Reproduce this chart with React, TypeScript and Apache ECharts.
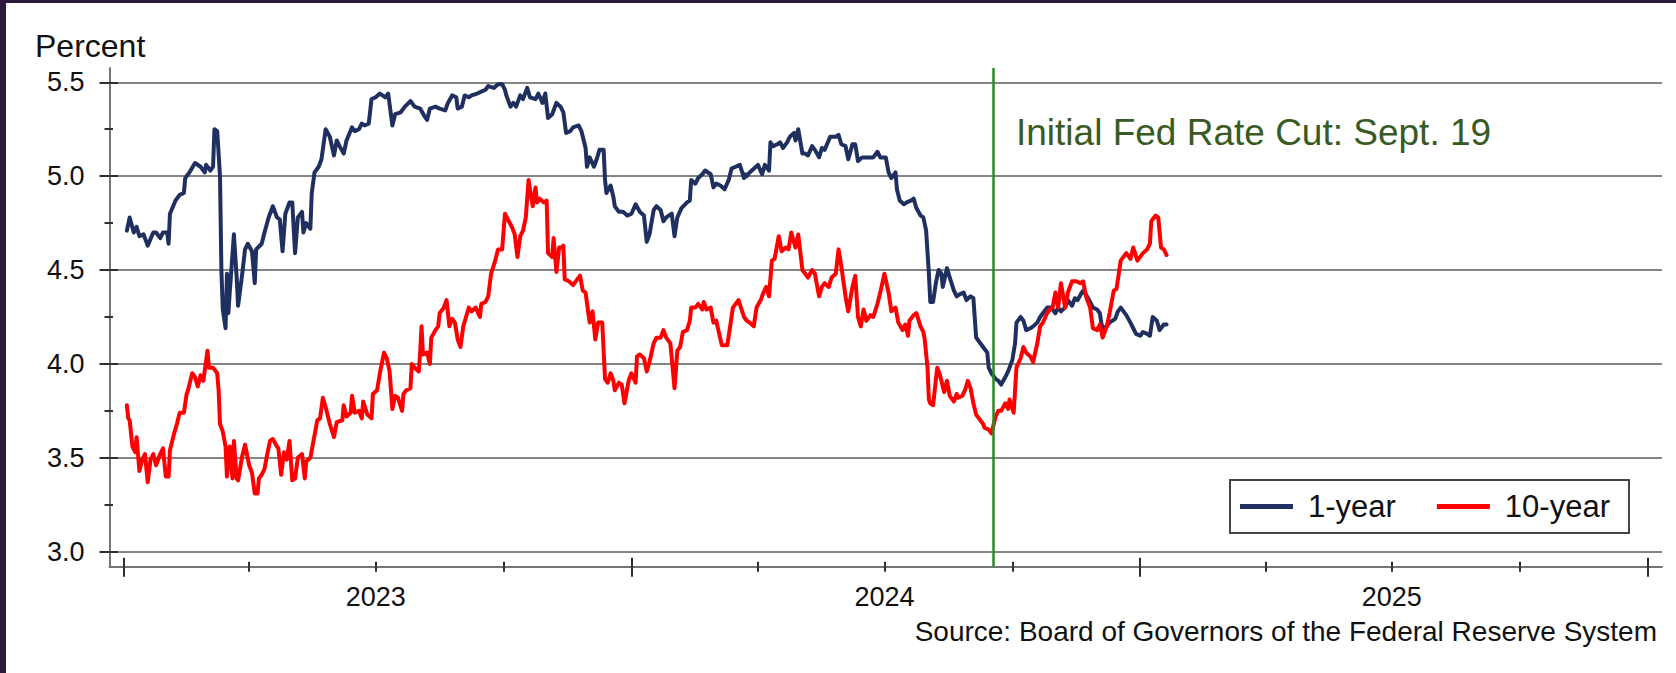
import React, { useEffect, useRef } from "react";
import * as echarts from "echarts";

const FONT = "'Liberation Sans', Arial, Helvetica, sans-serif";

const seriesNames = ["1-year", "10-year"];
const seriesColors = ["#1f3060", "#ff0000"];

// 1-year Treasury yield, percent
const oneYear: [string, number][] = [
  ["2023-01-03", 4.71], ["2023-01-05", 4.78], ["2023-01-08", 4.70], ["2023-01-10", 4.73], ["2023-01-12", 4.68],
  ["2023-01-15", 4.69], ["2023-01-18", 4.63], ["2023-01-22", 4.70], ["2023-01-24", 4.70], ["2023-01-27", 4.67],
  ["2023-01-29", 4.70], ["2023-02-01", 4.70], ["2023-02-02", 4.64], ["2023-02-03", 4.80], ["2023-02-07", 4.87],
  ["2023-02-10", 4.90], ["2023-02-13", 4.91], ["2023-02-14", 4.99], ["2023-02-17", 5.02], ["2023-02-21", 5.07],
  ["2023-02-25", 5.05], ["2023-02-28", 5.02], ["2023-03-01", 5.06], ["2023-03-04", 5.03], ["2023-03-06", 5.05],
  ["2023-03-07", 5.25], ["2023-03-09", 5.24], ["2023-03-11", 5.00], ["2023-03-12", 4.50], ["2023-03-13", 4.29],
  ["2023-03-15", 4.19], ["2023-03-16", 4.48], ["2023-03-17", 4.27], ["2023-03-18", 4.38], ["2023-03-21", 4.69],
  ["2023-03-23", 4.46], ["2023-03-24", 4.31], ["2023-03-27", 4.48], ["2023-03-29", 4.61], ["2023-03-31", 4.64],
  ["2023-04-03", 4.60], ["2023-04-05", 4.43], ["2023-04-06", 4.61], ["2023-04-10", 4.64], ["2023-04-12", 4.70],
  ["2023-04-15", 4.78], ["2023-04-18", 4.84], ["2023-04-21", 4.78], ["2023-04-23", 4.77], ["2023-04-25", 4.60],
  ["2023-04-27", 4.80], ["2023-04-30", 4.86], ["2023-05-02", 4.86], ["2023-05-04", 4.59], ["2023-05-06", 4.78],
  ["2023-05-09", 4.81], ["2023-05-10", 4.70], ["2023-05-12", 4.75], ["2023-05-15", 4.72], ["2023-05-16", 4.91],
  ["2023-05-18", 5.02], ["2023-05-21", 5.05], ["2023-05-23", 5.09], ["2023-05-26", 5.25], ["2023-05-29", 5.21],
  ["2023-06-01", 5.11], ["2023-06-03", 5.19], ["2023-06-05", 5.16], ["2023-06-08", 5.12], ["2023-06-10", 5.19],
  ["2023-06-14", 5.26], ["2023-06-16", 5.24], ["2023-06-19", 5.25], ["2023-06-21", 5.28], ["2023-06-23", 5.27],
  ["2023-06-26", 5.28], ["2023-06-28", 5.41], ["2023-07-01", 5.42], ["2023-07-04", 5.44], ["2023-07-08", 5.42],
  ["2023-07-10", 5.44], ["2023-07-13", 5.27], ["2023-07-15", 5.33], ["2023-07-19", 5.34], ["2023-07-22", 5.37],
  ["2023-07-26", 5.40], ["2023-07-29", 5.37], ["2023-08-02", 5.36], ["2023-08-05", 5.32], ["2023-08-07", 5.30],
  ["2023-08-09", 5.36], ["2023-08-13", 5.37], ["2023-08-16", 5.36], ["2023-08-20", 5.35], ["2023-08-22", 5.39],
  ["2023-08-25", 5.43], ["2023-08-28", 5.42], ["2023-08-29", 5.36], ["2023-09-01", 5.37], ["2023-09-03", 5.43],
  ["2023-09-06", 5.42], ["2023-09-08", 5.43], ["2023-09-12", 5.44], ["2023-09-15", 5.45], ["2023-09-18", 5.46],
  ["2023-09-20", 5.48], ["2023-09-24", 5.47], ["2023-09-27", 5.49], ["2023-09-30", 5.49], ["2023-10-02", 5.46],
  ["2023-10-03", 5.43], ["2023-10-06", 5.37], ["2023-10-08", 5.39], ["2023-10-10", 5.37], ["2023-10-13", 5.43],
  ["2023-10-15", 5.41], ["2023-10-18", 5.47], ["2023-10-20", 5.42], ["2023-10-24", 5.41], ["2023-10-26", 5.44],
  ["2023-10-29", 5.39], ["2023-10-31", 5.44], ["2023-11-02", 5.31], ["2023-11-05", 5.33], ["2023-11-08", 5.39],
  ["2023-11-11", 5.37], ["2023-11-13", 5.34], ["2023-11-15", 5.23], ["2023-11-18", 5.24], ["2023-11-20", 5.26],
  ["2023-11-24", 5.27], ["2023-11-26", 5.24], ["2023-11-29", 5.15], ["2023-11-30", 5.05], ["2023-12-02", 5.10],
  ["2023-12-05", 5.05], ["2023-12-07", 5.09], ["2023-12-09", 5.14], ["2023-12-12", 5.14], ["2023-12-13", 4.98],
  ["2023-12-14", 4.91], ["2023-12-17", 4.95], ["2023-12-19", 4.89], ["2023-12-20", 4.84], ["2023-12-23", 4.81],
  ["2023-12-26", 4.81], ["2023-12-29", 4.79], ["2024-01-01", 4.80], ["2024-01-04", 4.85], ["2024-01-07", 4.81],
  ["2024-01-10", 4.79], ["2024-01-12", 4.65], ["2024-01-14", 4.69], ["2024-01-17", 4.82], ["2024-01-19", 4.84],
  ["2024-01-22", 4.82], ["2024-01-24", 4.76], ["2024-01-26", 4.78], ["2024-01-30", 4.80], ["2024-02-01", 4.68],
  ["2024-02-03", 4.78], ["2024-02-06", 4.83], ["2024-02-10", 4.86], ["2024-02-12", 4.87], ["2024-02-13", 4.98],
  ["2024-02-16", 4.96], ["2024-02-18", 4.99], ["2024-02-21", 5.01], ["2024-02-23", 5.03], ["2024-02-27", 5.01],
  ["2024-02-29", 4.94], ["2024-03-02", 4.96], ["2024-03-05", 4.95], ["2024-03-08", 4.93], ["2024-03-11", 4.98],
  ["2024-03-13", 5.04], ["2024-03-16", 5.05], ["2024-03-19", 5.06], ["2024-03-22", 4.99], ["2024-03-23", 5.01],
  ["2024-03-24", 5.00], ["2024-03-26", 5.02], ["2024-03-29", 5.04], ["2024-04-01", 5.06], ["2024-04-04", 5.01],
  ["2024-04-06", 5.06], ["2024-04-09", 5.03], ["2024-04-10", 5.18], ["2024-04-12", 5.16], ["2024-04-15", 5.17],
  ["2024-04-17", 5.18], ["2024-04-19", 5.15], ["2024-04-22", 5.18], ["2024-04-24", 5.21], ["2024-04-27", 5.23],
  ["2024-04-28", 5.19], ["2024-04-30", 5.25], ["2024-05-03", 5.12], ["2024-05-05", 5.12], ["2024-05-07", 5.11],
  ["2024-05-10", 5.16], ["2024-05-12", 5.14], ["2024-05-15", 5.10], ["2024-05-17", 5.15], ["2024-05-19", 5.14],
  ["2024-05-23", 5.21], ["2024-05-27", 5.21], ["2024-05-29", 5.22], ["2024-05-31", 5.17], ["2024-06-03", 5.16],
  ["2024-06-05", 5.09], ["2024-06-08", 5.17], ["2024-06-10", 5.17], ["2024-06-12", 5.08], ["2024-06-15", 5.10],
  ["2024-06-17", 5.10], ["2024-06-20", 5.10], ["2024-06-23", 5.10], ["2024-06-26", 5.13], ["2024-06-28", 5.10],
  ["2024-07-02", 5.10], ["2024-07-04", 5.02], ["2024-07-06", 4.99], ["2024-07-09", 5.02], ["2024-07-10", 4.93],
  ["2024-07-12", 4.87], ["2024-07-15", 4.85], ["2024-07-17", 4.86], ["2024-07-20", 4.87], ["2024-07-22", 4.88],
  ["2024-07-24", 4.83], ["2024-07-27", 4.79], ["2024-07-29", 4.78], ["2024-07-31", 4.71], ["2024-08-02", 4.48],
  ["2024-08-03", 4.33], ["2024-08-05", 4.33], ["2024-08-07", 4.43], ["2024-08-09", 4.50], ["2024-08-11", 4.48],
  ["2024-08-12", 4.41], ["2024-08-15", 4.51], ["2024-08-17", 4.46], ["2024-08-20", 4.39], ["2024-08-22", 4.36],
  ["2024-08-24", 4.37], ["2024-08-27", 4.38], ["2024-08-29", 4.34], ["2024-09-01", 4.36], ["2024-09-03", 4.35],
  ["2024-09-05", 4.14], ["2024-09-08", 4.11], ["2024-09-10", 4.09], ["2024-09-13", 4.06], ["2024-09-14", 3.98],
  ["2024-09-16", 3.95], ["2024-09-19", 3.92], ["2024-09-21", 3.91], ["2024-09-23", 3.89], ["2024-09-26", 3.93],
  ["2024-09-28", 3.96], ["2024-10-01", 4.02], ["2024-10-03", 4.11], ["2024-10-04", 4.22], ["2024-10-07", 4.25],
  ["2024-10-09", 4.23], ["2024-10-11", 4.18], ["2024-10-14", 4.19], ["2024-10-16", 4.20], ["2024-10-19", 4.22],
  ["2024-10-21", 4.25], ["2024-10-23", 4.27], ["2024-10-26", 4.30], ["2024-10-29", 4.30], ["2024-11-01", 4.27],
  ["2024-11-03", 4.30], ["2024-11-05", 4.28], ["2024-11-08", 4.30], ["2024-11-10", 4.34], ["2024-11-13", 4.31],
  ["2024-11-15", 4.35], ["2024-11-17", 4.34], ["2024-11-20", 4.38], ["2024-11-21", 4.39], ["2024-11-23", 4.37],
  ["2024-11-26", 4.33], ["2024-11-28", 4.30], ["2024-12-01", 4.29], ["2024-12-03", 4.27], ["2024-12-04", 4.22],
  ["2024-12-05", 4.19], ["2024-12-08", 4.20], ["2024-12-10", 4.22], ["2024-12-14", 4.24], ["2024-12-16", 4.28],
  ["2024-12-18", 4.30], ["2024-12-20", 4.28], ["2024-12-22", 4.26], ["2024-12-25", 4.22], ["2024-12-27", 4.19],
  ["2024-12-29", 4.16], ["2025-01-01", 4.15], ["2025-01-03", 4.17], ["2025-01-06", 4.16], ["2025-01-08", 4.15],
  ["2025-01-10", 4.25], ["2025-01-13", 4.23], ["2025-01-15", 4.18], ["2025-01-18", 4.21], ["2025-01-20", 4.21],
];

// 10-year Treasury yield, percent
const tenYear: [string, number][] = [
  ["2023-01-03", 3.78], ["2023-01-04", 3.71], ["2023-01-05", 3.70], ["2023-01-07", 3.56], ["2023-01-09", 3.53],
  ["2023-01-10", 3.61], ["2023-01-12", 3.43], ["2023-01-14", 3.49], ["2023-01-16", 3.52], ["2023-01-18", 3.37],
  ["2023-01-20", 3.49], ["2023-01-22", 3.52], ["2023-01-24", 3.46], ["2023-01-27", 3.52], ["2023-01-29", 3.55],
  ["2023-01-31", 3.40], ["2023-02-02", 3.40], ["2023-02-03", 3.54], ["2023-02-06", 3.63], ["2023-02-08", 3.68],
  ["2023-02-10", 3.74], ["2023-02-13", 3.74], ["2023-02-15", 3.84], ["2023-02-16", 3.86], ["2023-02-19", 3.95],
  ["2023-02-21", 3.93], ["2023-02-23", 3.88], ["2023-02-25", 3.94], ["2023-02-27", 3.91], ["2023-03-02", 4.07],
  ["2023-03-03", 3.98], ["2023-03-06", 3.98], ["2023-03-09", 3.95], ["2023-03-10", 3.86], ["2023-03-11", 3.68],
  ["2023-03-13", 3.64], ["2023-03-15", 3.56], ["2023-03-16", 3.40], ["2023-03-18", 3.56], ["2023-03-20", 3.39],
  ["2023-03-21", 3.59], ["2023-03-23", 3.39], ["2023-03-24", 3.38], ["2023-03-27", 3.51], ["2023-03-29", 3.57],
  ["2023-04-01", 3.46], ["2023-04-03", 3.42], ["2023-04-05", 3.31], ["2023-04-07", 3.31], ["2023-04-08", 3.39],
  ["2023-04-10", 3.41], ["2023-04-12", 3.44], ["2023-04-14", 3.52], ["2023-04-16", 3.59], ["2023-04-18", 3.60],
  ["2023-04-21", 3.56], ["2023-04-22", 3.55], ["2023-04-24", 3.41], ["2023-04-26", 3.53], ["2023-04-28", 3.49],
  ["2023-04-30", 3.59], ["2023-05-02", 3.38], ["2023-05-04", 3.39], ["2023-05-06", 3.50], ["2023-05-09", 3.52],
  ["2023-05-11", 3.39], ["2023-05-12", 3.48], ["2023-05-15", 3.50], ["2023-05-17", 3.58], ["2023-05-20", 3.70],
  ["2023-05-22", 3.71], ["2023-05-24", 3.82], ["2023-05-26", 3.77], ["2023-05-29", 3.68], ["2023-06-01", 3.61],
  ["2023-06-03", 3.69], ["2023-06-07", 3.70], ["2023-06-08", 3.78], ["2023-06-10", 3.72], ["2023-06-13", 3.74],
  ["2023-06-14", 3.83], ["2023-06-16", 3.74], ["2023-06-19", 3.75], ["2023-06-21", 3.71], ["2023-06-22", 3.80],
  ["2023-06-25", 3.73], ["2023-06-28", 3.71], ["2023-06-29", 3.84], ["2023-07-02", 3.86], ["2023-07-04", 3.95],
  ["2023-07-07", 4.06], ["2023-07-09", 4.03], ["2023-07-11", 3.96], ["2023-07-13", 3.76], ["2023-07-15", 3.83],
  ["2023-07-17", 3.82], ["2023-07-20", 3.75], ["2023-07-21", 3.84], ["2023-07-23", 3.86], ["2023-07-26", 3.87],
  ["2023-07-27", 4.00], ["2023-07-29", 3.98], ["2023-08-01", 3.96], ["2023-08-02", 4.06], ["2023-08-03", 4.20],
  ["2023-08-04", 4.05], ["2023-08-07", 4.06], ["2023-08-09", 4.00], ["2023-08-10", 4.14], ["2023-08-13", 4.18],
  ["2023-08-15", 4.20], ["2023-08-16", 4.27], ["2023-08-19", 4.30], ["2023-08-21", 4.34], ["2023-08-23", 4.20],
  ["2023-08-25", 4.24], ["2023-08-27", 4.22], ["2023-08-29", 4.13], ["2023-08-31", 4.09], ["2023-09-02", 4.20],
  ["2023-09-04", 4.25], ["2023-09-06", 4.30], ["2023-09-08", 4.28], ["2023-09-11", 4.30], ["2023-09-14", 4.25],
  ["2023-09-15", 4.32], ["2023-09-18", 4.33], ["2023-09-20", 4.36], ["2023-09-22", 4.48], ["2023-09-25", 4.55],
  ["2023-09-27", 4.61], ["2023-09-30", 4.61], ["2023-10-02", 4.80], ["2023-10-04", 4.77], ["2023-10-07", 4.73],
  ["2023-10-09", 4.69], ["2023-10-11", 4.57], ["2023-10-13", 4.68], ["2023-10-15", 4.71], ["2023-10-17", 4.78],
  ["2023-10-19", 4.98], ["2023-10-20", 4.93], ["2023-10-22", 4.84], ["2023-10-24", 4.94], ["2023-10-25", 4.86],
  ["2023-10-27", 4.88], ["2023-10-30", 4.86], ["2023-11-01", 4.87], ["2023-11-02", 4.59], ["2023-11-05", 4.57],
  ["2023-11-06", 4.67], ["2023-11-08", 4.49], ["2023-11-10", 4.62], ["2023-11-12", 4.62], ["2023-11-13", 4.63],
  ["2023-11-14", 4.45], ["2023-11-17", 4.44], ["2023-11-20", 4.42], ["2023-11-23", 4.45], ["2023-11-25", 4.47],
  ["2023-11-27", 4.39], ["2023-11-29", 4.38], ["2023-12-01", 4.27], ["2023-12-02", 4.22], ["2023-12-04", 4.28],
  ["2023-12-06", 4.13], ["2023-12-08", 4.22], ["2023-12-11", 4.22], ["2023-12-13", 3.92], ["2023-12-15", 3.90],
  ["2023-12-17", 3.95], ["2023-12-19", 3.91], ["2023-12-20", 3.86], ["2023-12-23", 3.90], ["2023-12-25", 3.89],
  ["2023-12-27", 3.79], ["2023-12-30", 3.91], ["2024-01-01", 3.95], ["2024-01-04", 3.90], ["2024-01-05", 4.04],
  ["2024-01-07", 4.05], ["2024-01-10", 4.03], ["2024-01-12", 3.96], ["2024-01-14", 4.01], ["2024-01-17", 4.11],
  ["2024-01-19", 4.14], ["2024-01-22", 4.14], ["2024-01-24", 4.18], ["2024-01-26", 4.14], ["2024-01-29", 4.11],
  ["2024-02-01", 3.87], ["2024-02-03", 4.07], ["2024-02-05", 4.09], ["2024-02-07", 4.17], ["2024-02-10", 4.18],
  ["2024-02-12", 4.23], ["2024-02-13", 4.30], ["2024-02-16", 4.30], ["2024-02-18", 4.32], ["2024-02-21", 4.29],
  ["2024-02-22", 4.33], ["2024-02-24", 4.29], ["2024-02-27", 4.30], ["2024-02-29", 4.22], ["2024-03-02", 4.23],
  ["2024-03-06", 4.10], ["2024-03-10", 4.10], ["2024-03-12", 4.20], ["2024-03-14", 4.30], ["2024-03-18", 4.34],
  ["2024-03-22", 4.25], ["2024-03-24", 4.23], ["2024-03-26", 4.22], ["2024-03-29", 4.20], ["2024-03-31", 4.30],
  ["2024-04-03", 4.34], ["2024-04-05", 4.38], ["2024-04-07", 4.41], ["2024-04-09", 4.36], ["2024-04-11", 4.55],
  ["2024-04-13", 4.56], ["2024-04-16", 4.68], ["2024-04-18", 4.60], ["2024-04-21", 4.62], ["2024-04-23", 4.61],
  ["2024-04-25", 4.70], ["2024-04-28", 4.62], ["2024-04-30", 4.69], ["2024-05-03", 4.50], ["2024-05-05", 4.48],
  ["2024-05-07", 4.46], ["2024-05-10", 4.50], ["2024-05-12", 4.48], ["2024-05-15", 4.36], ["2024-05-17", 4.41],
  ["2024-05-19", 4.43], ["2024-05-22", 4.41], ["2024-05-24", 4.46], ["2024-05-27", 4.48], ["2024-05-29", 4.61],
  ["2024-05-31", 4.52], ["2024-06-03", 4.36], ["2024-06-05", 4.28], ["2024-06-08", 4.41], ["2024-06-10", 4.47],
  ["2024-06-12", 4.25], ["2024-06-14", 4.20], ["2024-06-16", 4.29], ["2024-06-18", 4.23], ["2024-06-21", 4.26],
  ["2024-06-23", 4.25], ["2024-06-26", 4.32], ["2024-06-28", 4.38], ["2024-07-01", 4.48], ["2024-07-04", 4.38],
  ["2024-07-06", 4.28], ["2024-07-09", 4.30], ["2024-07-11", 4.22], ["2024-07-14", 4.18], ["2024-07-16", 4.21],
  ["2024-07-18", 4.15], ["2024-07-19", 4.23], ["2024-07-22", 4.26], ["2024-07-24", 4.27], ["2024-07-27", 4.20],
  ["2024-07-29", 4.17], ["2024-07-30", 4.13], ["2024-08-01", 3.98], ["2024-08-02", 3.81], ["2024-08-03", 3.79],
  ["2024-08-05", 3.78], ["2024-08-08", 3.98], ["2024-08-10", 3.94], ["2024-08-13", 3.85], ["2024-08-15", 3.91],
  ["2024-08-17", 3.83], ["2024-08-20", 3.80], ["2024-08-22", 3.84], ["2024-08-23", 3.82], ["2024-08-26", 3.83],
  ["2024-08-28", 3.86], ["2024-08-30", 3.91], ["2024-09-01", 3.87], ["2024-09-03", 3.79], ["2024-09-05", 3.73],
  ["2024-09-08", 3.70], ["2024-09-10", 3.68], ["2024-09-11", 3.66], ["2024-09-14", 3.65], ["2024-09-16", 3.63],
  ["2024-09-19", 3.72], ["2024-09-21", 3.75], ["2024-09-23", 3.75], ["2024-09-26", 3.79], ["2024-09-28", 3.76],
  ["2024-09-29", 3.81], ["2024-10-02", 3.74], ["2024-10-04", 3.98], ["2024-10-07", 4.03], ["2024-10-09", 4.09],
  ["2024-10-11", 4.06], ["2024-10-14", 4.04], ["2024-10-16", 4.01], ["2024-10-19", 4.11], ["2024-10-21", 4.20],
  ["2024-10-23", 4.22], ["2024-10-26", 4.27], ["2024-10-28", 4.29], ["2024-10-30", 4.30], ["2024-11-01", 4.38],
  ["2024-11-03", 4.30], ["2024-11-05", 4.43], ["2024-11-08", 4.30], ["2024-11-10", 4.38], ["2024-11-13", 4.44],
  ["2024-11-16", 4.44], ["2024-11-19", 4.43], ["2024-11-21", 4.44], ["2024-11-23", 4.36], ["2024-11-26", 4.30],
  ["2024-11-28", 4.19], ["2024-12-01", 4.18], ["2024-12-03", 4.21], ["2024-12-05", 4.14], ["2024-12-08", 4.20],
  ["2024-12-10", 4.27], ["2024-12-13", 4.39], ["2024-12-15", 4.40], ["2024-12-18", 4.55], ["2024-12-20", 4.57],
  ["2024-12-22", 4.59], ["2024-12-25", 4.56], ["2024-12-27", 4.62], ["2024-12-30", 4.55], ["2025-01-01", 4.57],
  ["2025-01-03", 4.59], ["2025-01-06", 4.61], ["2025-01-08", 4.64], ["2025-01-09", 4.76], ["2025-01-12", 4.79],
  ["2025-01-14", 4.78], ["2025-01-16", 4.62], ["2025-01-18", 4.61], ["2025-01-20", 4.58],
];

const fedCutDate = "2024-09-17";
const fedCutLabel = "Initial Fed Rate Cut: Sept. 19";
const yAxisTitle = "Percent";
const sourceNote = "Source: Board of Governors of the Federal Reserve System";

const yRange = [2.92, 5.576];
const yMajorTicks = [3, 3.5, 4, 4.5, 5, 5.5];
const yMinorTicks = [3.25, 3.75, 4.25, 4.75, 5.25];

const xRange = ["2022-12-21T12:00:00Z", "2026-01-11T10:00:00Z"];
const quarterTicks = [
  "2023-04-01", "2023-07-01", "2023-10-01",
  "2024-04-01", "2024-07-01", "2024-10-01",
  "2025-04-01", "2025-07-01", "2025-10-01",
];
const yearTicks = ["2023-01-01", "2024-01-01", "2025-01-01", "2026-01-01"];
const yearLabelDates = ["2023-07-01", "2024-07-01", "2025-07-01"];

const ts = (s: string) => Date.parse(s.length === 10 ? s + "T00:00:00Z" : s);

const TICK_COLOR = "#2e2e2e";
const AXIS_COLOR = "#767676";
const GRID_COLOR = "#858585";

function xDecor(values: string[], inside: boolean, length: number, mainAxis: boolean) {
  return {
    type: "value",
    position: "bottom",
    min: ts(xRange[0]),
    max: ts(xRange[1]),
    axisLine: mainAxis ? { show: true, lineStyle: { color: AXIS_COLOR, width: 2 } } : { show: false },
    axisTick: {
      show: true,
      inside,
      length,
      customValues: values.map(ts),
      lineStyle: { color: TICK_COLOR, width: 2 },
    },
    axisLabel: mainAxis
      ? {
          show: true,
          customValues: yearLabelDates.map(ts),
          formatter: (v: number) => String(new Date(v).getUTCFullYear()),
          margin: 17,
          fontSize: 27,
          fontFamily: FONT,
          color: "#111111",
        }
      : { show: false },
    splitLine: { show: false },
  };
}

function yDecor(values: number[], inside: boolean, length: number, mainAxis: boolean) {
  return {
    type: "value",
    position: "left",
    min: yRange[0],
    max: yRange[1],
    axisLine: mainAxis ? { show: true, lineStyle: { color: AXIS_COLOR, width: 2 } } : { show: false },
    axisTick: {
      show: true,
      inside,
      length,
      customValues: values,
      lineStyle: { color: TICK_COLOR, width: 2 },
    },
    axisLabel: mainAxis
      ? {
          show: true,
          customValues: yMajorTicks,
          formatter: (v: number) => v.toFixed(1),
          margin: 25,
          fontSize: 27,
          fontFamily: FONT,
          color: "#111111",
        }
      : { show: false },
    splitLine: mainAxis ? { show: true, lineStyle: { color: GRID_COLOR, width: 2 } } : { show: false },
  };
}

export default function App() {
  const ref = useRef<HTMLDivElement>(null);

  useEffect(() => {
    if (!ref.current) return;
    const chart = echarts.init(ref.current, null, { renderer: "svg" });
    const seriesData = [oneYear, tenYear];

    const option: any = {
      animation: false,
      backgroundColor: "#ffffff",
      grid: {
        left: 109.5,
        right: 14,
        top: 68,
        bottom: 106.3,
        containLabel: false,
        outerBoundsMode: "none",
      },
      xAxis: [
        xDecor(quarterTicks.concat(yearTicks), false, 5, true),
        xDecor(quarterTicks, true, 5, false),
        xDecor(yearTicks, false, 10, false),
        xDecor(yearTicks, true, 9, false),
      ],
      yAxis: [
        yDecor(yMajorTicks, false, 10, true),
        yDecor(yMajorTicks, true, 8.5, false),
        yDecor(yMinorTicks, false, 5, false),
        yDecor(yMinorTicks, true, 3.5, false),
      ],
      legend: {
        show: true,
        data: seriesNames,
        left: 1230,
        top: 480,
        orient: "horizontal",
        icon: "rect",
        itemWidth: 53,
        itemHeight: 5,
        itemGap: 41,
        padding: [11, 19, 11, 10],
        borderColor: "#444444",
        borderWidth: 2,
        backgroundColor: "#ffffff",
        selectedMode: false,
        textStyle: {
          fontSize: 31,
          fontFamily: FONT,
          color: "#111111",
          lineHeight: 31,
          padding: [0, 0, 0, 10],
        },
      },
      series: seriesNames.map((name, i) => ({
        name,
        type: "line",
        xAxisIndex: 0,
        yAxisIndex: 0,
        showSymbol: false,
        symbol: "none",
        color: seriesColors[i],
        lineStyle: { color: seriesColors[i], width: 4, join: "round", cap: "round" },
        data: seriesData[i].map(([d, v]) => [ts(d), v]),
        z: 3 + i,
        markLine:
          i === 0
            ? {
                silent: true,
                symbol: ["none", "none"],
                label: { show: false },
                lineStyle: { color: "#2a8a2a", width: 2.5, type: "solid" },
                data: [{ xAxis: ts(fedCutDate) }],
              }
            : undefined,
      })),
      graphic: [
        {
          type: "text",
          x: 35,
          y: 46,
          style: {
            text: yAxisTitle,
            fontSize: 32,
            fontFamily: FONT,
            fill: "#111111",
            align: "left",
            verticalAlign: "middle",
          },
        },
        {
          type: "text",
          x: 1016,
          y: 132,
          style: {
            text: fedCutLabel,
            fontSize: 37,
            fontFamily: FONT,
            fill: "#3a5a24",
            align: "left",
            verticalAlign: "middle",
          },
        },
        {
          type: "text",
          x: 1657,
          y: 631,
          style: {
            text: sourceNote,
            fontSize: 28,
            fontFamily: FONT,
            fill: "#111111",
            align: "right",
            verticalAlign: "middle",
          },
        },
        {
          type: "rect",
          z: 100,
          shape: { x: 0, y: 0, width: 1676, height: 3 },
          style: { fill: "#2b1a3c" },
        },
        {
          type: "rect",
          z: 100,
          shape: { x: 0, y: 0, width: 6, height: 673 },
          style: { fill: "#2b1a3c" },
        },
      ],
    };

    chart.setOption(option);
    return () => chart.dispose();
  }, []);

  return (
    <div
      ref={ref}
      style={{ position: "fixed", left: 0, top: 0, width: 1676, height: 673, background: "#ffffff" }}
    />
  );
}
